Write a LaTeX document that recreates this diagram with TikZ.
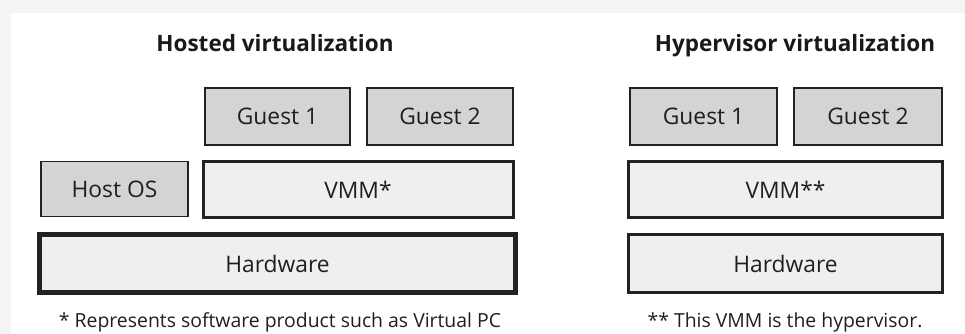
\documentclass[tikz,border=0pt]{standalone}
\usepackage{fontspec}
\setmainfont{Open Sans}
\definecolor{guestfill}{HTML}{D4D4D4}
\definecolor{layerfill}{HTML}{EFEFEF}
\definecolor{edge}{HTML}{222222}
\definecolor{pagegray}{HTML}{F4F4F4}
\tikzset{
  layer/.style={draw=edge, text=black!88, font=\fontsize{22.8}{26}\selectfont,
               inner sep=0pt, anchor=center},
  guestbox/.style={layer, fill=guestfill, line width=1.5pt},
  vmmbox/.style={layer, fill=layerfill, line width=3pt},
  hwbox/.style={layer, fill=layerfill, line width=4.4pt},
  heading/.style={font=\bfseries\fontsize{22.5}{26}\selectfont, text=black!90, anchor=base},
  footnote/.style={font=\fontsize{19.4}{22}\selectfont, text=black!88, anchor=base},
}

\begin{document}
\begin{tikzpicture}[x=1pt, y=-1pt]
    \fill[pagegray] (0,0) rectangle (965,334);
    \fill[white] (11,13) rectangle (965,334);
    \useasboundingbox (0,0) rectangle (965,334);
    % hosted side
    \node[heading] (hostedtitle) at (275,52) {Hosted virtualization};
    \node[guestbox, minimum width=145pt, minimum height=57pt] (hguest1) at (277.5,116.5) {Guest 1};
    \node[guestbox, minimum width=146pt, minimum height=57pt] (hguest2) at (440,116.5) {Guest 2};
    \node[guestbox, minimum width=147pt, minimum height=55pt] (hostos) at (114.5,189) {Host OS};
    \node[vmmbox, minimum width=310pt, minimum height=56pt] (hvmm) at (358,189.5) {VMM*};
    \node[hwbox, minimum width=476pt, minimum height=58pt] (hhw) at (277.5,263.5) {Hardware};
    \node[footnote] (hostednote) at (280,327) {* Represents software product such as Virtual PC};
    % hypervisor side
    \node[heading] (hypertitle) at (795,52) {Hypervisor virtualization};
    \node[guestbox, minimum width=147pt, minimum height=57pt] (vguest1) at (703.5,116.5) {Guest 1};
    \node[guestbox, minimum width=148pt, minimum height=57pt] (vguest2) at (868,116.5) {Guest 2};
    \node[vmmbox, minimum width=314pt, minimum height=56pt] (vvmm) at (785.5,189.5) {VMM**};
    \node[vmmbox, minimum width=314pt, minimum height=58pt] (vhw) at (785.5,263.5) {Hardware};
    \node[footnote] (hypernote) at (785,327) {** This VMM is the hypervisor.};
  \end{tikzpicture}
\end{document}
